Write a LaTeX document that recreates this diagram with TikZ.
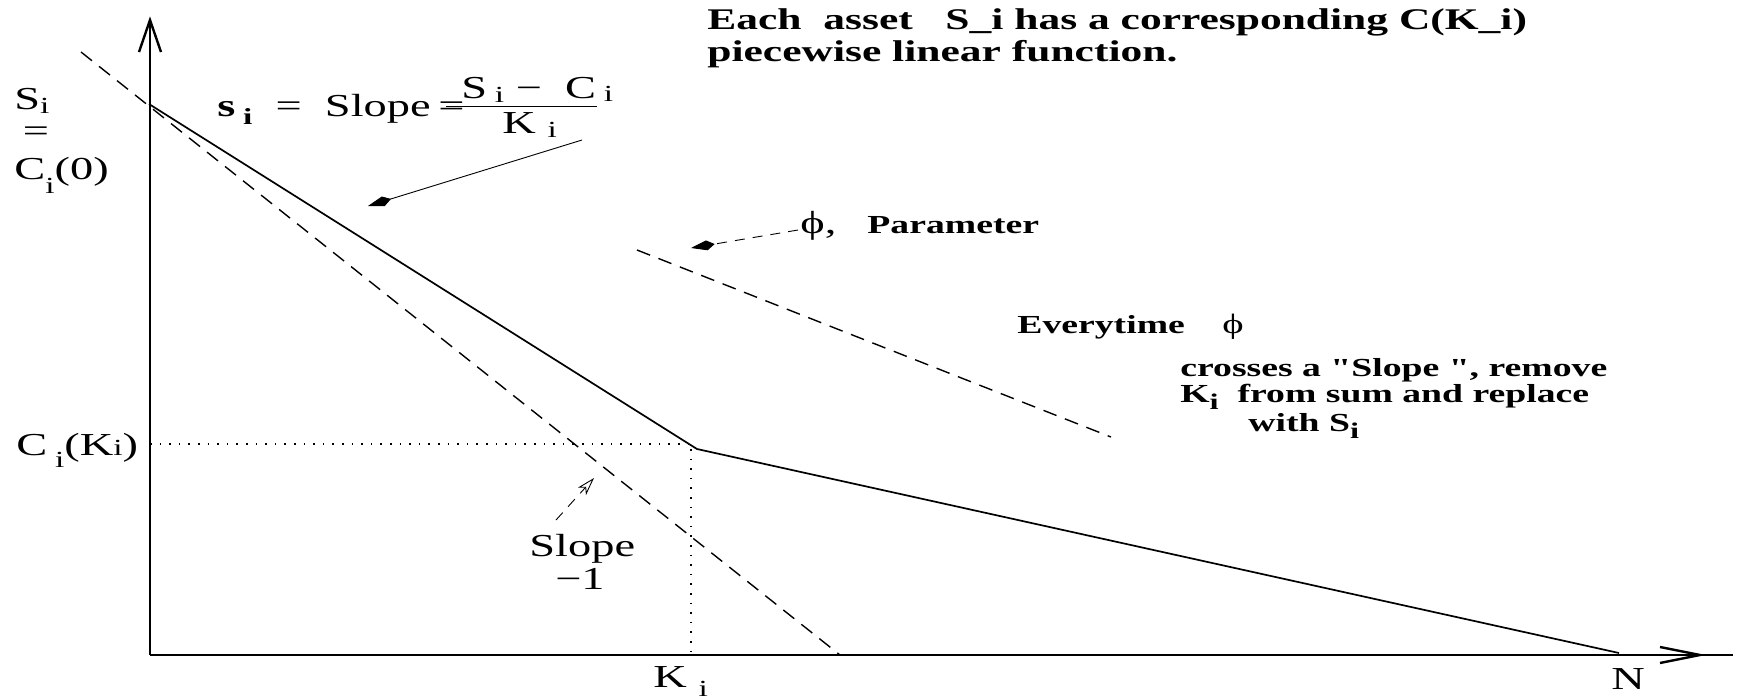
\documentclass[tikz,border=0pt]{standalone}
\usepackage{fontspec}
\setmainfont{Liberation Serif}
\usepackage{graphicx}
\usetikzlibrary{arrows.meta}
\newcommand\lowsub[2][0.3em]{\raisebox{-#1}{\scalebox{0.72}{#2}}}
\newcommand\wide[1]{\scalebox{1.45}[1]{#1}}
\newcommand\sq{{\addfontfeatures{Ligatures=TeXOff}"}}
\begin{document}
\begin{tikzpicture}[x=0.5pt,y=-0.5pt,
  lbl/.style={inner sep=0pt, font=\fontsize{16}{19}\selectfont, anchor=base west},
  blbl/.style={inner sep=0pt, font=\fontsize{13}{16}\selectfont\bfseries, anchor=base west},
  tlbl/.style={inner sep=0pt, font=\fontsize{15}{18}\selectfont\bfseries, anchor=base west},
  axis/.style={line width=1.2pt},
  curve/.style={line width=0.85pt},
  dashA/.style={line width=0.7pt, dash pattern=on 7pt off 4.5pt},
  dotA/.style={line width=0.8pt, dash pattern=on 0.8pt off 4pt},
  thin/.style={line width=0.45pt},
  tipF/.style={-{Kite[length=12pt,width=5pt,inset=4pt]}},
  tipO/.style={-{Stealth[open,length=9pt,width=5.5pt,inset=2.5pt]}}]
\useasboundingbox (0,0) rectangle (1742,698);
% axes
\coordinate (O) at (150,655);
\coordinate (ytip) at (150,20);
\coordinate (xtip) at (1700,655);
\coordinate (xend) at (1733,655);
\draw[axis] (O) -- (ytip);
\draw[axis] (O) -- (xend);
\draw[axis] ([shift={(-11,32)}]ytip) -- (ytip) -- ([shift={(11,32)}]ytip);
\draw[axis] ([shift={(-40,-8)}]xtip) -- (xtip) -- ([shift={(-40,8)}]xtip);
% piecewise function
\coordinate (S0) at (149,104);
\coordinate (Kc) at (697,449);
\coordinate (Ne) at (1619,653);
\draw[curve] (S0) -- (Kc) -- (Ne);
% slope -1 line
\coordinate (dA1) at (81,52);
\coordinate (dA2) at (840,655);
\draw[dashA] (dA1) -- (dA2);
% phi line
\coordinate (dB1) at (637,250);
\coordinate (dB2) at (1111,437);
\draw[dashA] (dB1) -- (dB2);
% dotted guides
\coordinate (hy) at (150,444);
\coordinate (hx) at (697,444);
\coordinate (vy) at (691,449);
\coordinate (vx) at (691,655);
\draw[dotA] (hy) -- (hx);
\draw[dotA] (vy) -- (vx);
% labels
\node[tlbl] (t1) at (707,29) {\wide{Each\ \ asset\ \ \ S\_i has a corresponding C(K\_i)}};
\node[tlbl] (t2) at (707,61) {\wide{piecewise linear function.}};
\node[lbl] (Si) at (14,109) {\wide{S\lowsub[0.15em]{i}}};
\node[lbl,anchor=base] (eq) at (36,141) {\wide{=}};
\node[lbl] (C0) at (14,179) {\wide{C\lowsub[0.45em]{i}(0)}};
\node[lbl] (form) at (217,116) {\wide{\textbf{s}\,\lowsub[0.25em]{\textbf{i}}\ \ =\ \ Slope\,=}};
\node[lbl] (num) at (461,98) {\wide{S\,\lowsub[0.15em]{i}\ −\ \ C\,\lowsub[0.1em]{i}}};
\node[lbl] (den) at (502,133) {\wide{K\ \lowsub[0.15em]{i}}};
\coordinate (bar1) at (446,106);
\coordinate (bar2) at (597,106);
\draw[thin] (bar1) -- (bar2);
\coordinate (a1s) at (582,140);
\coordinate (a1e) at (368,206);
\draw[thin,tipF] (a1s) -- (a1e);
\node[lbl] (phi) at (800,233) {\wide{ϕ,}};
\node[blbl] (par) at (867,233) {\wide{Parameter}};
\coordinate (a2s) at (798,230);
\coordinate (a2e) at (691,248);
\draw[thin,tipF,dash pattern=on 5pt off 4pt] (a2s) -- (a2e);
\node[blbl] (ev) at (1017,333) {\wide{Everytime}};
\node[lbl,font=\fontsize{14}{17}\selectfont] (phi2) at (1222,333) {\wide{ϕ}};
\node[blbl] (l1) at (1180,376) {\wide{crosses a \sq Slope \sq, remove}};
\node[blbl] (l2) at (1180,402) {\wide{K\lowsub[0.3em]{\scalebox{1.2}{i}}\ \ from sum and replace}};
\node[blbl] (l3) at (1248,431) {\wide{with S\lowsub[0.3em]{\scalebox{1.2}{i}}}};
\node[lbl] (CK) at (16,455) {\wide{C\,\lowsub[0.4em]{i}(K\lowsub[0.02em]{i})}};
\node[lbl] (sl) at (529,556) {\wide{Slope}};
\node[lbl,anchor=base] (m1) at (580,589) {\wide{−1}};
\coordinate (a3s) at (556,520);
\coordinate (a3e) at (594,478);
\draw[thin,tipO,dash pattern=on 5pt off 4pt] (a3s) -- (a3e);
\node[lbl] (Ki) at (653,687) {\wide{K\ \lowsub[0.3em]{i}}};
\node[lbl] (N) at (1611,689) {\wide{N}};
\end{tikzpicture}
\end{document}
